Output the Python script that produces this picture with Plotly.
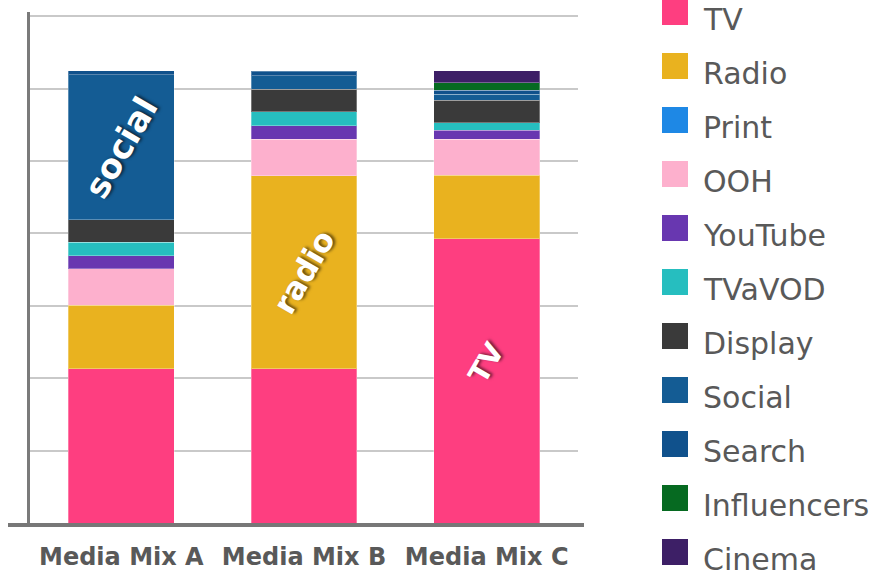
import plotly.graph_objects as go

# Media mix composition per scenario (stacked, arbitrary budget units)
mixes = ["Media Mix A", "Media Mix B", "Media Mix C"]
channels = ["TV", "Radio", "Print", "OOH", "YouTube", "TVaVOD", "Display",
            "Social", "Search", "Influencers", "Cinema"]
colors = ["#FE3E80", "#E9B21F", "#1E88E5", "#FDB0CD", "#6837B0", "#26BEBF",
          "#3A3A3A", "#145C94", "#10518C", "#066A21", "#3D1F66"]

tv          = [2.13, 2.13, 3.93]
radio       = [0.88, 2.67, 0.875]
print_      = [0.0, 0.0, 0.0]
ooh         = [0.50, 0.50, 0.50]
youtube     = [0.18, 0.19, 0.124]
tvavod      = [0.19, 0.19, 0.10]
display     = [0.31, 0.31, 0.31]
social      = [2.00, 0.19, 0.088]
search      = [0.06, 0.06, 0.055]
influencers = [0.0, 0.0, 0.10]
cinema      = [0.0, 0.0, 0.166]

series = [tv, radio, print_, ooh, youtube, tvavod, display,
          social, search, influencers, cinema]

# In-bar callouts: (mix, channel, text, rotation, font size, vertical shift)
callouts = [
    ("Media Mix A", "Social", "social", -60, 34, 0),
    ("Media Mix B", "Radio", "radio", -60, 31, 0),
    ("Media Mix C", "TV", "TV", -60, 28, 18),
]

W, H = 874, 570
L, R, T, B = 30, 296, 12, 47
PW, PH = W - L - R, H - T - B
Y_MAX = 7.06

GREY_TEXT = "#595959"
FONT = "Century Gothic, DejaVu Sans, sans-serif"


def px_x(x):
    return (x - L) / PW


def px_y(y):
    return (H - B - y) / PH


fig = go.Figure()
for name, vals, col in zip(channels, series, colors):
    fig.add_trace(go.Bar(
        x=mixes, y=vals, name=name, marker_color=col,
        marker_line_color="rgba(255,255,255,0.3)",
        marker_line_width=[0 if v == 0 else 1 for v in vals],
        showlegend=False,
    ))

annotations = []
# Callout text placed at the middle of its segment
for mix, ch, txt, ang, size, shift in callouts:
    i = mixes.index(mix)
    k = channels.index(ch)
    base = sum(series[j][i] for j in range(k))
    mid = base + series[k][i] / 2
    annotations.append(dict(
        x=mix, y=mid, xref="x", yref="y", text=txt, showarrow=False,
        textangle=ang, yshift=shift,
        font=dict(family=FONT, size=size, color="white", weight="bold",
                  shadow="2px 2px 3px rgba(0,0,0,0.55)"),
    ))

shapes = []
# Custom legend with large swatches
for n, (name, col) in enumerate(zip(channels, colors)):
    cy = 12 + 54 * n
    shapes.append(dict(
        type="rect", xref="paper", yref="paper",
        x0=px_x(662), x1=px_x(688), y0=px_y(cy + 13), y1=px_y(cy - 13),
        fillcolor=col, line_width=0,
    ))
    annotations.append(dict(
        x=px_x(701), y=px_y(cy + 7), xref="paper", yref="paper",
        xanchor="left", yanchor="middle", text=name, showarrow=False,
        font=dict(family=FONT, size=30, color=GREY_TEXT),
    ))

# Heavy baseline extending past the value axis
shapes.append(dict(
    type="line", xref="paper", yref="paper",
    x0=px_x(8), x1=px_x(584), y0=px_y(525), y1=px_y(525),
    line=dict(color="#777777", width=4),
))

fig.update_layout(
    width=W, height=H,
    margin=dict(l=L, r=R, t=T, b=B, pad=0, autoexpand=False),
    barmode="stack", bargap=0.42,
    plot_bgcolor="white", paper_bgcolor="white",
    shapes=shapes, annotations=annotations,
    xaxis=dict(
        showgrid=False, zeroline=False, showline=False, ticks="",
        automargin=False, ticklabelstandoff=17,
        tickfont=dict(family=FONT, size=24, color=GREY_TEXT, weight="bold"),
    ),
    yaxis=dict(
        range=[0, Y_MAX], dtick=1, showticklabels=False, ticks="",
        automargin=False,
        showgrid=True, gridcolor="#C9C9C9", gridwidth=2,
        zeroline=False, showline=True, linecolor="#7A7A7A", linewidth=3,
    ),
)

fig.write_html("out.html")
